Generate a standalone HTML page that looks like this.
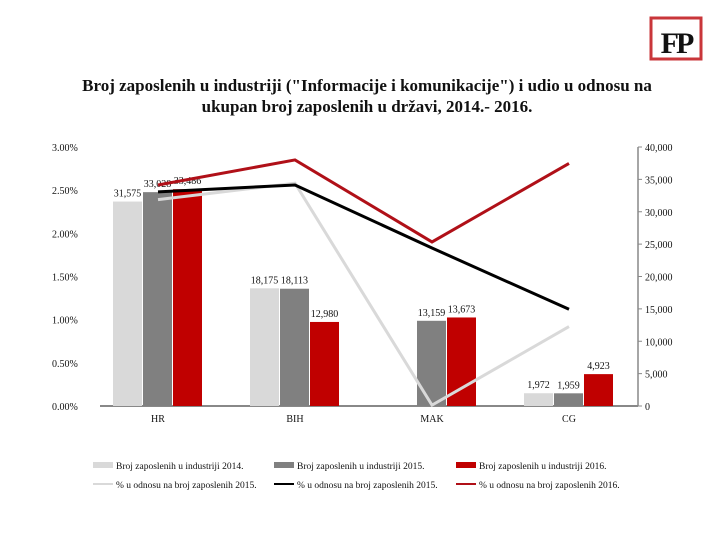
<!DOCTYPE html>
<html><head><meta charset="utf-8"><style>
body{margin:0;background:#fff;}
svg text{font-family:"Liberation Serif",serif;}
</style></head><body>
<svg width="720" height="540" xmlns="http://www.w3.org/2000/svg">
<g>
<rect x="651" y="18" width="50" height="41" fill="#fff" stroke="#c9363a" stroke-width="3"/>
<text x="676" y="53" text-anchor="middle" font-size="30" font-weight="bold" fill="#111" letter-spacing="-3">FP</text>
</g>
<text x="367" y="91" text-anchor="middle" font-size="17" font-weight="bold" fill="#111">Broj zaposlenih u industriji ("Informacije i komunikacije") i udio u odnosu na</text>
<text x="367" y="112" text-anchor="middle" font-size="17" font-weight="bold" fill="#111">ukupan broj zaposlenih u državi, 2014.- 2016.</text>
<g id="axes"></g>
<g id="bars"></g>
<g id="lines"></g>
<g id="legend"></g>
</svg>
<script>
const categories=["HR","BIH","MAK","CG"];
const emp2014=[31575,18175,0,1972];
const emp2015=[33028,18113,13159,1959];
const emp2016=[33486,12980,13673,4923];
const pct2014=[2.39,2.58,0.01,0.92];
const pct2015=[2.48,2.56,1.83,1.12];
const pct2016=[2.56,2.85,1.90,2.81];
const leftTicks=[0,0.5,1,1.5,2,2.5,3];
const rightTicks=[0,5000,10000,15000,20000,25000,30000,35000,40000];
const NS="http://www.w3.org/2000/svg";
const y0=406,y1=147;
const yR=v=>y0-(v/40000)*(y0-y1);
const yL=v=>y0-(v/3)*(y0-y1);
const xC=i=>158+i*137;
function mk(t,a,p){const e=document.createElementNS(NS,t);for(const k in a)e.setAttribute(k,a[k]);p.appendChild(e);return e;}
const fmt=v=>v.toLocaleString("en-US");
const ax=document.getElementById("axes");
let e=mk("line",{x1:100,x2:638,y1:y0,y2:y0,stroke:"#888","stroke-width":2},ax);


e=mk("line",{x1:638,x2:638,y1:y1,y2:y0,stroke:"#888","stroke-width":1.5},ax);


leftTicks.forEach(v=>{const t=mk("text",{x:52,y:yL(v)+4,"font-size":10,fill:"#111"},ax);t.textContent=v.toFixed(2)+"%";

});
rightTicks.forEach(v=>{mk("line",{x1:638,x2:642,y1:yR(v),y2:yR(v),stroke:"#888"},ax);const t=mk("text",{x:645,y:yR(v)+4,"font-size":10,fill:"#111"},ax);t.textContent=fmt(v);

});
categories.forEach((c,i)=>{const t=mk("text",{x:xC(i),y:422,"font-size":10,"text-anchor":"middle",fill:"#111"},ax);t.textContent=c;

});
const bg=document.getElementById("bars");
const series=[[emp2014,"#d9d9d9",-30],[emp2015,"#808080",0],[emp2016,"#c00000",30]];
series.forEach(([arr,col,off],si)=>{arr.forEach((v,i)=>{if(!v)return;const x=xC(i)+off-15;
const r=mk("rect",{x:x,y:yR(v),width:29,height:y0-yR(v),fill:col},bg);


const t=mk("text",{x:x+14.5,y:yR(v)-5,"font-size":10,"text-anchor":"middle",fill:"#111"},bg);t.textContent=fmt(v);

});});
const lg=document.getElementById("lines");
[[pct2014,"#d9d9d9","pct-line-2014"],[pct2015,"#000","pct-line-2015"],[pct2016,"#b01018","pct-line-2016"]].forEach(([arr,col,n])=>{
const p=mk("polyline",{points:arr.map((v,i)=>xC(i)+","+yL(v)).join(" "),fill:"none",stroke:col,"stroke-width":3},lg);

});
const leg=document.getElementById("legend");
const items=[[93,465,"#d9d9d9",6,"Broj zaposlenih u industriji 2014."],[274,465,"#808080",6,"Broj zaposlenih u industriji 2015."],[456,465,"#c00000",6,"Broj zaposlenih u industriji 2016."],
[93,484,"#d9d9d9",2,"% u odnosu na broj zaposlenih 2015."],[274,484,"#000",2,"% u odnosu na broj zaposlenih 2015."],[456,484,"#b01018",2,"% u odnosu na broj zaposlenih 2016."]];
items.forEach(([x,y,c,h,l])=>{const g=mk("g",{},leg);


mk("rect",{x:x,y:y-h/2,width:20,height:h,fill:c},g);
const t=mk("text",{x:x+23,y:y+4,"font-size":9.5,fill:"#111"},g);t.textContent=l;});
</script>
</body></html>
